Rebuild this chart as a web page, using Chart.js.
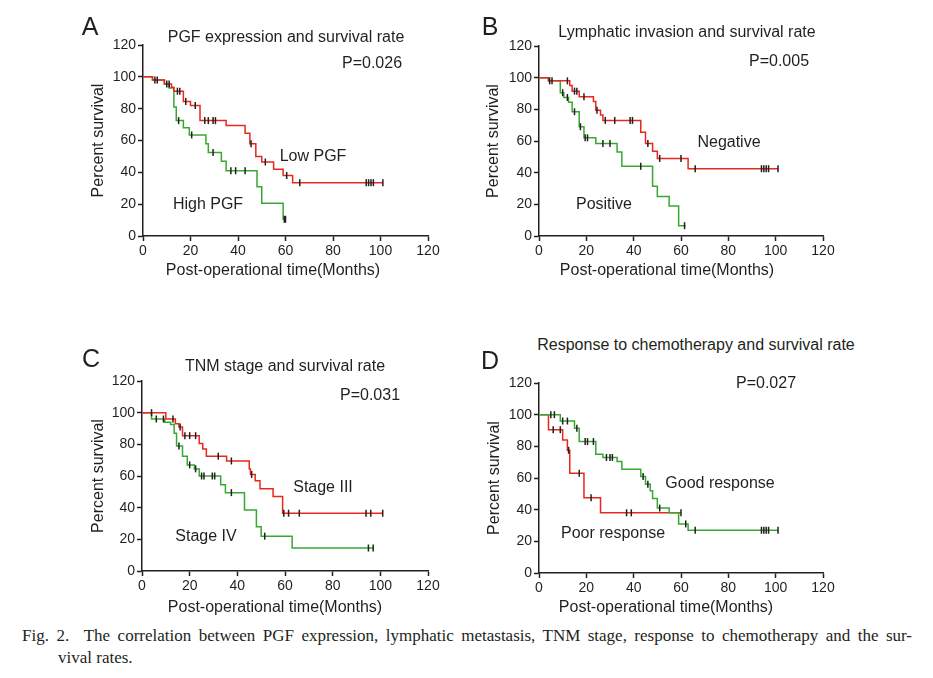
<!DOCTYPE html>
<html>
<head>
<meta charset="utf-8">
<title>Kaplan-Meier survival curves</title>
<script src="https://cdn.jsdelivr.net/npm/chart.js@4.4.0/dist/chart.umd.min.js"></script>
<style>
  body { margin: 0; width: 933px; height: 678px; position: relative; overflow: hidden; background: #fff;
         font-family: "Liberation Sans", Arial, sans-serif; color: #231f20; }
  canvas { position: absolute; }
  .lbl { position: absolute; transform: translate(-50%, -50%); white-space: nowrap; line-height: 1; font-size: 16px; }
  .letter { font-size: 25px; }
  .cap { position: absolute; font-family: "Liberation Serif", "Times New Roman", serif; font-size: 17px; line-height: 1; white-space: nowrap; }
  .cap.just { text-align: justify; text-align-last: justify; white-space: normal; }
</style>
</head>
<body>

<canvas id="kmA"></canvas>
<canvas id="kmB"></canvas>
<canvas id="kmC"></canvas>
<canvas id="kmD"></canvas>

<!-- panel A -->
<div class="lbl letter" style="left:90px;top:26px">A</div>
<div class="lbl" style="left:286px;top:37px">PGF expression and survival rate</div>
<div class="lbl" style="left:372px;top:63px">P=0.026</div>
<div class="lbl" style="left:313px;top:156px">Low PGF</div>
<div class="lbl" style="left:208px;top:204px">High PGF</div>
<div class="lbl" style="left:273px;top:270px">Post-operational time(Months)</div>

<!-- panel B -->
<div class="lbl letter" style="left:490px;top:26px">B</div>
<div class="lbl" style="left:687px;top:32px">Lymphatic invasion and survival rate</div>
<div class="lbl" style="left:779px;top:61px">P=0.005</div>
<div class="lbl" style="left:729px;top:142px">Negative</div>
<div class="lbl" style="left:604px;top:204px">Positive</div>
<div class="lbl" style="left:667px;top:270px">Post-operational time(Months)</div>

<!-- panel C -->
<div class="lbl letter" style="left:91px;top:358px">C</div>
<div class="lbl" style="left:285px;top:366px">TNM stage and survival rate</div>
<div class="lbl" style="left:370px;top:395px">P=0.031</div>
<div class="lbl" style="left:323px;top:487px">Stage III</div>
<div class="lbl" style="left:206px;top:536px">Stage IV</div>
<div class="lbl" style="left:275px;top:607px">Post-operational time(Months)</div>

<!-- panel D -->
<div class="lbl letter" style="left:490px;top:360px">D</div>
<div class="lbl" style="left:696px;top:345px">Response to chemotherapy and survival rate</div>
<div class="lbl" style="left:766px;top:383px">P=0.027</div>
<div class="lbl" style="left:720px;top:483px">Good response</div>
<div class="lbl" style="left:613px;top:533px">Poor response</div>
<div class="lbl" style="left:666px;top:607px">Post-operational time(Months)</div>

<div class="cap just" style="left:22px;top:627px;width:890px">Fig. 2.&nbsp; The correlation between PGF expression, lymphatic metastasis, TNM stage, response to chemotherapy and the sur-</div>
<div class="cap" style="left:58px;top:649px">vival rates.</div>

<script>
// ---------- Data ----------
const xTickValues = [0, 20, 40, 60, 80, 100, 120];
const yTickValues = [0, 20, 40, 60, 80, 100, 120];

// A: PGF expression
const lowPgfTime   = [0, 4, 9, 12, 13, 17, 20, 24, 35, 43, 45, 47.5, 50, 55, 59, 63, 101];
const lowPgfSurv   = [100, 98, 95.5, 93.5, 91, 84.5, 82, 72.5, 69.5, 64.5, 58, 50, 46.5, 42, 38, 33.5, 33.5];
const lowPgfCensor = [6, 11, 14.5, 15.5, 18, 22, 26, 27.5, 29.5, 30.5, 45.5, 51.5, 60.5, 66, 94, 95, 96, 97, 101];
const highPgfTime   = [0, 4, 9, 11, 13, 14, 17, 19.5, 26.5, 27.5, 33, 35, 48, 50, 59, 60];
const highPgfSurv   = [100, 98, 95.5, 93, 81, 72.5, 68, 63.5, 58, 52.5, 47, 41, 31, 20.5, 10.5, 10.5];
const highPgfCensor = [5, 10, 15, 20.5, 29.5, 37, 39, 43, 59.5, 60];

// B: lymphatic invasion
const negTime   = [0, 4, 13, 14, 17, 23, 24, 26, 27, 43, 45, 48, 50, 63, 101];
const negSurv   = [100, 98, 95, 91.5, 88, 85, 79.5, 76.5, 73, 65.5, 58.5, 53.5, 49, 42.5, 42.5];
const negCensor = [5.5, 12, 15, 16, 19, 24.5, 28, 32, 38.5, 39.5, 46, 51, 60, 66, 94, 95, 96, 97, 101];
const posTime   = [0, 4, 9, 10.5, 12.5, 14, 17, 19, 24, 33, 35, 48, 50, 55, 59, 62];
const posSurv   = [100, 98, 90.5, 87.5, 84.5, 78.5, 69, 62, 58.5, 53, 44, 31.5, 25, 19, 6.5, 6.5];
const posCensor = [4.5, 10, 12, 15, 17.5, 19.5, 20.5, 27, 30, 43, 61.5];

// C: TNM stage
const stage3Time   = [0, 10, 14, 15.5, 17, 24, 25.5, 27, 35.5, 45, 45.5, 47.5, 49.5, 55, 59, 101];
const stage3Surv   = [100, 96, 93, 91, 85.5, 80.5, 77, 72.5, 69.5, 64.5, 61, 57, 52, 47, 36.5, 36.5];
const stage3Censor = [4, 13, 16, 18, 20, 22.5, 32, 37.5, 46, 59.5, 61.5, 66, 94, 96, 101];
const stage4Time   = [0, 4, 9.5, 12, 13.5, 14.5, 17, 19, 22, 24, 33, 35, 43, 48, 50, 63, 97];
const stage4Surv   = [100, 96, 94, 92.5, 87, 79, 72.5, 67, 64.5, 60, 54.5, 49.5, 38.5, 28, 22, 14.5, 14.5];
const stage4Censor = [6, 9, 15.5, 20, 22.5, 25, 26, 29.5, 30.5, 37.5, 51.5, 95, 97];

// D: response to chemotherapy
const poorTime   = [0, 4, 10, 12, 13, 19, 26, 60];
const poorSurv   = [100, 90.5, 84, 77.5, 63, 47.5, 38, 38];
const poorCensor = [6, 9, 12.5, 17, 22, 37, 39, 60];
const goodTime   = [0, 9, 15, 17, 24, 27, 33, 35, 43, 45, 47, 48, 50, 55, 59, 63, 101];
const goodSurv   = [100, 96, 91.5, 83, 75, 73, 70.5, 65.5, 61, 56, 52, 47, 41, 38, 31, 27, 27];
const goodCensor = [5, 6.5, 10, 12, 16, 19.5, 20.5, 23, 28.5, 30, 31, 44, 46, 51, 62, 66, 94, 95, 96, 97, 101];

// ---------- Styling ----------
const RED = "#e8281c";
const GREEN = "#38a832";
const INK = "#231f20";
const FONT = "'Liberation Sans', Arial, sans-serif";

// survival value in effect at time t (for placing censor marks on the curve)
function survAt(times, surv, t) {
  let s = surv[0];
  for (let i = 0; i < times.length; i++) if (times[i] <= t) s = surv[i];
  return s;
}

// ---------- One KM panel ----------
// area = plot box in page pixels, yTitleX = centre of the rotated y title
function drawPanel(id, area, groups, yTitleX) {
  const padL = 70, padT = 20, padR = 25, padB = 50;
  const cv = document.getElementById(id);
  cv.width = area.r - area.l + padL + padR;
  cv.height = area.b - area.t + padT + padB;
  cv.style.left = (area.l - padL) + "px";
  cv.style.top = (area.t - padT) + "px";

  const datasets = [];
  groups.forEach(g => {
    // horizontal first, then drop: KM step
    datasets.push({
      data: g.time.map((t, i) => ({ x: t, y: g.surv[i] })),
      showLine: true, stepped: "before",
      borderColor: g.color, borderWidth: 1.5,
      pointRadius: 0, order: 2
    });
    datasets.push({
      data: g.censor.map(t => ({ x: t, y: survAt(g.time, g.surv, t) })),
      showLine: false,
      pointStyle: "line", pointRotation: 90, pointRadius: 3.5,
      pointBorderColor: INK, borderColor: INK, pointBorderWidth: 1.5,
      order: 1
    });
  });

  const titlePad = yTitleX - (area.l - padL) - 9.6;

  new Chart(cv, {
    type: "scatter",
    data: { datasets },
    options: {
      responsive: false,
      animation: false,
      events: [],
      layout: { padding: { left: 0, top: padT, right: padR, bottom: 0 } },
      plugins: { legend: { display: false }, tooltip: { enabled: false } },
      scales: {
        x: {
          type: "linear", min: 0, max: 120,
          afterBuildTicks: s => { s.ticks = xTickValues.map(v => ({ value: v })); },
          afterFit: s => { s.height = padB; },
          grid: { drawOnChartArea: false, drawTicks: true, tickLength: 5, tickWidth: 1.5, tickColor: INK },
          border: { color: INK, width: 1.5 },
          ticks: { color: INK, font: { family: FONT, size: 14 }, padding: 2, maxRotation: 0 }
        },
        y: {
          type: "linear", min: 0, max: 120,
          afterBuildTicks: s => { s.ticks = yTickValues.map(v => ({ value: v })); },
          afterFit: s => { s.width = padL; },
          grid: { drawOnChartArea: false, drawTicks: true, tickLength: 5, tickWidth: 1.5, tickColor: INK },
          border: { color: INK, width: 1.5 },
          ticks: { color: INK, font: { family: FONT, size: 14 }, padding: 2 },
          title: {
            display: true, text: "Percent survival", color: INK,
            font: { family: FONT, size: 16 },
            padding: { top: titlePad, bottom: 0 }
          }
        }
      }
    }
  });
}

drawPanel("kmA", { l: 143, t: 45, r: 428, b: 236 }, [
  { time: lowPgfTime, surv: lowPgfSurv, censor: lowPgfCensor, color: RED },
  { time: highPgfTime, surv: highPgfSurv, censor: highPgfCensor, color: GREEN }
], 99);

drawPanel("kmB", { l: 539, t: 46, r: 823, b: 236 }, [
  { time: negTime, surv: negSurv, censor: negCensor, color: RED },
  { time: posTime, surv: posSurv, censor: posCensor, color: GREEN }
], 494);

drawPanel("kmC", { l: 142, t: 381, r: 428, b: 571 }, [
  { time: stage3Time, surv: stage3Surv, censor: stage3Censor, color: RED },
  { time: stage4Time, surv: stage4Surv, censor: stage4Censor, color: GREEN }
], 99);

drawPanel("kmD", { l: 539, t: 383, r: 823, b: 573 }, [
  { time: goodTime, surv: goodSurv, censor: goodCensor, color: GREEN },
  { time: poorTime, surv: poorSurv, censor: poorCensor, color: RED }
], 495);
</script>
</body>
</html>
